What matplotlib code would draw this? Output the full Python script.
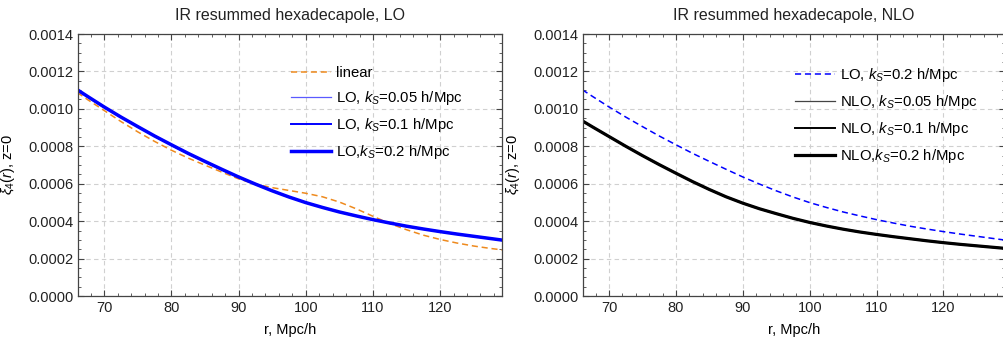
import numpy as np
import matplotlib
matplotlib.use('Agg')
import matplotlib.pyplot as plt
from matplotlib.ticker import MultipleLocator, FormatStrFormatter

# values
r = [66, 67.5, 70, 72.5, 75, 77.5, 80, 82.5, 85, 87.5, 90, 92.5, 95, 97.5, 100,
     102.5, 105, 107.5, 110, 112.5, 115, 117.5, 120, 122.5, 125, 127.5, 130]

linear = [0.001087, 0.001050, 0.000991, 0.000932, 0.000877, 0.000826, 0.000779, 0.000737, 0.000699,
          0.000662, 0.000626, 0.000598, 0.000579, 0.000564, 0.000549, 0.000530, 0.000502, 0.000466,
          0.000426, 0.000387, 0.000354, 0.000325, 0.000302, 0.000283, 0.000267, 0.000254, 0.000243]
lo_005 = [0.001100, 0.001065, 0.001008, 0.000955, 0.000904, 0.000854, 0.000807, 0.000761, 0.000718,
          0.000676, 0.000635, 0.000597, 0.000561, 0.000528, 0.000498, 0.000472, 0.000448, 0.000427,
          0.000407, 0.000389, 0.000372, 0.000357, 0.000343, 0.000330, 0.000318, 0.000306, 0.000294]
lo_01 = [0.001101, 0.001066, 0.001009, 0.000956, 0.000905, 0.000855, 0.000807, 0.000761, 0.000718,
         0.000676, 0.000636, 0.000598, 0.000562, 0.000529, 0.000499, 0.000473, 0.000449, 0.000428,
         0.000408, 0.000390, 0.000373, 0.000358, 0.000344, 0.000331, 0.000319, 0.000307, 0.000295]
lo_02 = [0.001102, 0.001067, 0.001010, 0.000956, 0.000905, 0.000855, 0.000808, 0.000762, 0.000719,
         0.000677, 0.000636, 0.000598, 0.000562, 0.000529, 0.000499, 0.000473, 0.000449, 0.000428,
         0.000408, 0.000390, 0.000373, 0.000358, 0.000344, 0.000331, 0.000319, 0.000307, 0.000295]

nlo_005 = [0.000935, 0.000903, 0.000851, 0.000799, 0.000749, 0.000701, 0.000655, 0.000610, 0.000568,
           0.000529, 0.000495, 0.000465, 0.000439, 0.000414, 0.000392, 0.000373, 0.000356, 0.000341,
           0.000328, 0.000316, 0.000305, 0.000294, 0.000284, 0.000275, 0.000267, 0.000259, 0.000251]
nlo_01 = [0.000936, 0.000904, 0.000852, 0.000800, 0.000750, 0.000702, 0.000656, 0.000611, 0.000569,
          0.000530, 0.000496, 0.000466, 0.000440, 0.000415, 0.000393, 0.000374, 0.000357, 0.000342,
          0.000329, 0.000317, 0.000306, 0.000295, 0.000285, 0.000276, 0.000268, 0.000260, 0.000252]
nlo_02 = [0.000936, 0.000904, 0.000852, 0.000800, 0.000750, 0.000702, 0.000656, 0.000611, 0.000569,
          0.000530, 0.000496, 0.000466, 0.000440, 0.000415, 0.000393, 0.000374, 0.000357, 0.000342,
          0.000329, 0.000317, 0.000306, 0.000295, 0.000285, 0.000276, 0.000268, 0.000260, 0.000252]

plt.rcParams['font.family'] = ['Liberation Sans', 'DejaVu Sans']
plt.rcParams['mathtext.fontset'] = 'custom'
plt.rcParams['mathtext.it'] = 'Liberation Sans:italic'
plt.rcParams['mathtext.rm'] = 'Liberation Sans'
plt.rcParams['font.size'] = 10

orange = '#ee8a1e'
blue = '#0000ff'
framec = '#444444'

fig = plt.figure(figsize=(10.04, 3.39), dpi=100)
ax1 = fig.add_axes([78/1004, 43/339, 424/1004, 262/339])
ax2 = fig.add_axes([583/1004, 43/339, 422/1004, 262/339])

ax1.plot(r, linear, color=orange, lw=1.1, dashes=(4, 2.5), label='linear')
ax1.plot(r, lo_005, color='#5a5aff', lw=0.9, label='LO, $k_S$=0.05 h/Mpc')
ax1.plot(r, lo_01, color=blue, lw=1.4, label='LO, $k_S$=0.1 h/Mpc')
ax1.plot(r, lo_02, color=blue, lw=2.5, label='LO,$k_S$=0.2 h/Mpc')
ax1.set_title('IR resummed hexadecapole, LO', fontsize=11.5, color='#222222', pad=10)

ax2.plot(r, lo_02, color=blue, lw=1.1, dashes=(4, 2.5), label='LO, $k_S$=0.2 h/Mpc')
ax2.plot(r, nlo_005, color='#444444', lw=0.9, label='NLO, $k_S$=0.05 h/Mpc')
ax2.plot(r, nlo_01, color='black', lw=1.4, label='NLO, $k_S$=0.1 h/Mpc')
ax2.plot(r, nlo_02, color='black', lw=2.3, label='NLO,$k_S$=0.2 h/Mpc')
ax2.set_title('IR resummed hexadecapole, NLO', fontsize=11.5, color='#222222', pad=10)

for ax in (ax1, ax2):
    ax.set_xlim(66.1, 129.2)
    ax.set_ylim(0, 0.0014)
    ax.xaxis.set_major_locator(MultipleLocator(10))
    ax.xaxis.set_minor_locator(MultipleLocator(2))
    ax.yaxis.set_major_locator(MultipleLocator(0.0002))
    ax.yaxis.set_minor_locator(MultipleLocator(0.00005))
    ax.yaxis.set_major_formatter(FormatStrFormatter('%.4f'))
    ax.tick_params(which='both', direction='in', top=True, right=True, color=framec, labelcolor='#222222')
    ax.tick_params(which='major', length=4, width=0.8, labelsize=10.5)
    ax.tick_params(which='minor', length=2, width=0.6)
    for s in ax.spines.values():
        s.set_color(framec)
        s.set_linewidth(0.9)
    ax.grid(True, which='major', color='#d0d0d0', linestyle=(0, (4, 3)), linewidth=0.8)
    ax.set_xlabel('r, Mpc/h', fontsize=10.5, labelpad=6)
    ax.set_ylabel(r'$\xi_4(r)$, z=0', fontsize=10.5, labelpad=8)
    ax.legend(loc='upper left', bbox_to_anchor=(0.47, 0.93), frameon=False,
              handlelength=2.7, handletextpad=0.35, labelspacing=0.62, fontsize=10.7)

fig.savefig('out.png', dpi=100)
